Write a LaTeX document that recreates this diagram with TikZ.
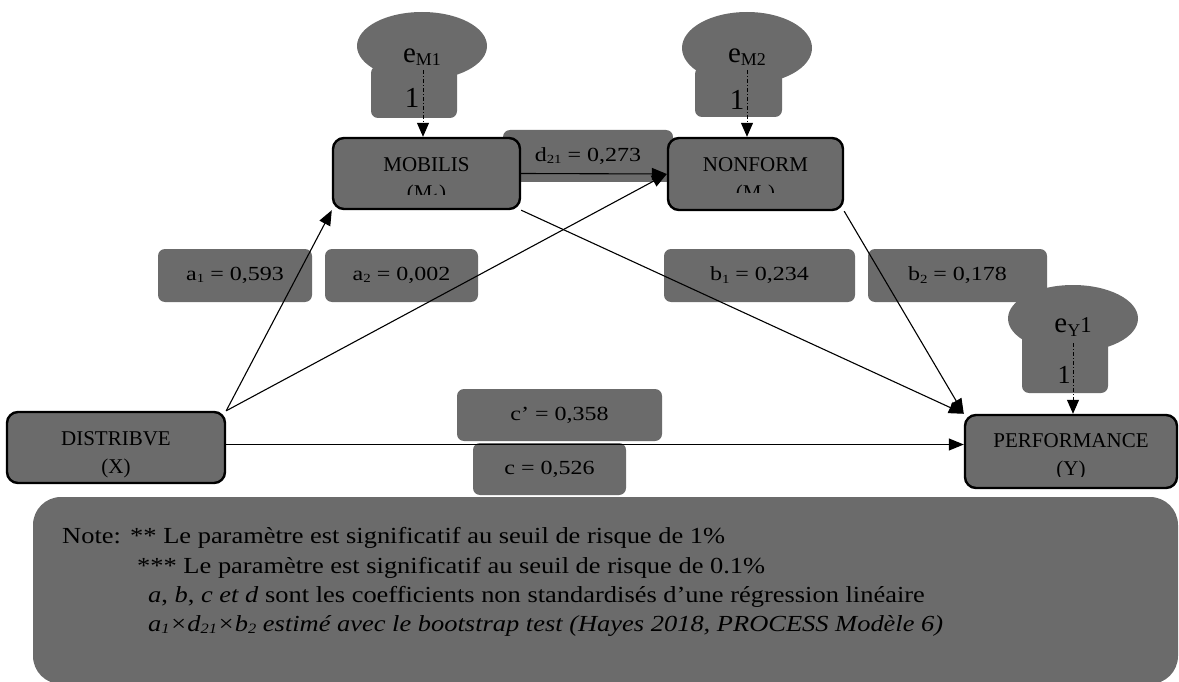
\documentclass[tikz,border=0pt]{standalone}
\usepackage{fontspec}
\setmainfont{Liberation Serif}
\newfontfamily\coeffont[FakeStretch=1.2]{Liberation Serif}
\newfontfamily\notefont[FakeStretch=1.15]{Liberation Serif}
\usetikzlibrary{arrows.meta,shapes.geometric}
\definecolor{panel}{RGB}{107,107,107}
% small lowered index used in labels
\newcommand\lowidx[1]{\raisebox{-0.25ex}{\scalebox{0.62}{#1}}}
\tikzset{
  varbox/.style={draw=black, line width=2.4pt, fill=panel, rounded corners=11pt, inner sep=0pt},
  vartext/.style={font=\fontsize{21}{28}\selectfont, align=center, inner sep=0pt},
  coef/.style={fill=panel, rounded corners=7pt, inner sep=0pt, font=\coeffont\fontsize{20}{24}\selectfont},
  errcloud/.style={ellipse, fill=panel, inner sep=0pt},
  errstem/.style={fill=panel, rounded corners=7pt, inner sep=0pt},
  errtext/.style={font=\fontsize{29}{32}\selectfont, inner sep=0pt},
  link/.style={line width=1.1pt, -{Triangle[length=15pt,width=12pt]}},
  errlink/.style={line width=1pt, dash pattern=on 4pt off 2pt on 1pt off 2pt, -{Triangle[length=14pt,width=12pt]}},
  notetext/.style={font=\notefont\fontsize{23}{28}\selectfont, anchor=base west, inner sep=0pt},
}
\begin{document}
\begin{tikzpicture}[x=1pt,y=-1pt]
\useasboundingbox (0,0) rectangle (1179,682);

% error terms
\node[errcloud, minimum width=130pt, minimum height=68pt] (em1) at (422,46) {};
\node[errstem, minimum width=86pt, minimum height=52pt] (em1s) at (414,92) {};
\node[errcloud, minimum width=130pt, minimum height=72pt] (em2) at (747,48) {};
\node[errstem, minimum width=87pt, minimum height=50pt] (em2s) at (738.5,92) {};
\node[errcloud, minimum width=130pt, minimum height=67pt] (ey) at (1073,318.5) {};
\node[errstem, minimum width=86pt, minimum height=60pt] (eys) at (1065,363) {};
\node[errtext] (em1t) at (422,57) {e\lowidx{M1}};
\node[errtext] (em2t) at (747,57) {e\lowidx{M2}};
\node[errtext] (eyt) at (1073,327) {e\lowidx{Y}\scalebox{0.78}{1}};
\node[errtext] (em1o) at (412,98) {1};
\node[errtext] (em2o) at (737,100) {1};
\node[errtext, font=\fontsize{26}{30}\selectfont] (eyo) at (1064,375) {1};

% coefficient labels
\node[coef, minimum width=170pt, minimum height=52pt] (d21) at (588,156) {\raisebox{2pt}{d\lowidx{21} = 0,273}};
\node[coef, minimum width=154pt, minimum height=53pt] (a1) at (235,275.5) {\raisebox{3pt}{a\lowidx{1} = 0,593}};
\node[coef, minimum width=153pt, minimum height=53pt] (a2) at (401.5,275.5) {\raisebox{3pt}{a\lowidx{2} = 0,002}};
\node[coef, minimum width=191pt, minimum height=53pt] (b1) at (759.5,275.5) {\raisebox{3pt}{b\lowidx{1} = 0,234}};
\node[coef, minimum width=179pt, minimum height=53pt] (b2) at (957.5,275.5) {\raisebox{3pt}{b\lowidx{2} = 0,178}};
\node[coef, minimum width=205pt, minimum height=52pt] (cp) at (559.5,415) {\raisebox{3pt}{c’ = 0,358}};
\node[coef, minimum width=153pt, minimum height=52pt] (c) at (549.5,469) {\raisebox{3pt}{c = 0,526}};

% variables
\node[varbox, minimum width=187pt, minimum height=71pt] (m1) at (426.5,173.5) {};
\node[varbox, minimum width=175pt, minimum height=72pt] (m2) at (755.5,174) {};
\node[varbox, minimum width=218pt, minimum height=71pt] (x) at (116,447.5) {};
\node[varbox, minimum width=212pt, minimum height=73pt] (y) at (1071,451.5) {};
\begin{scope}
  \clip (333,138) rectangle (520,195);
  \node[vartext] (m1t) at (426.5,181) {MOBILIS\\(M\lowidx{1})};
\end{scope}
\begin{scope}
  \clip (668,138) rectangle (843,193);
  \node[vartext] (m2t) at (755.5,181) {NONFORM\\(M\lowidx{2})};
\end{scope}
\begin{scope}
  \clip (7,412) rectangle (225,479);
  \node[vartext] (xt) at (116,455) {DISTRIBVE\\(X)};
\end{scope}
\begin{scope}
  \clip (965,415) rectangle (1177,476);
  \node[vartext] (yt) at (1071,457) {PERFORMANCE\\(Y)};
\end{scope}

% paths
\draw[link] (x.north east) -- (m1.south west);
\draw[link] (x.north east) -- (m2.west);
\draw[link] (m1.east) -- (m2.west);
\draw[link] (m1.south east) -- (y.north west);
\draw[link] (m2.south east) -- (y.north west);
\draw[link] ([yshift=3pt]x.east) -- ([yshift=3pt]x.east -| y.west);

% disturbance arrows
\coordinate (em1a) at (423,70);
\coordinate (em2a) at (747,70);
\coordinate (eya) at (1073,343);
\draw[errlink] (em1a) -- (em1a |- m1.north);
\draw[errlink] (em2a) -- (em2a |- m2.north);
\draw[errlink] (eya) -- (eya |- y.north);

% note panel
\node[fill=panel, rounded corners=28pt, minimum width=1145pt, minimum height=187pt, inner sep=0pt] (note) at (605.5,590.5) {};
\node[notetext] (n0) at (62,543) {Note:};
\node[notetext] (n1) at (130,543) {** Le paramètre est significatif au seuil de risque de 1\%};
\node[notetext] (n2) at (137,573) {*** Le paramètre est significatif au seuil de risque de 0.1\%};
\node[notetext] (n3) at (148,602) {\textit{a}, \textit{b}, \textit{c et d} sont les coefficients non standardisés d’une régression linéaire};
\node[notetext] (n4) at (148,631) {\textit{a\lowidx{1}×d\lowidx{21}×b\lowidx{2} estimé avec le bootstrap test (Hayes 2018, PROCESS Modèle 6)}};
\end{tikzpicture}
\end{document}
